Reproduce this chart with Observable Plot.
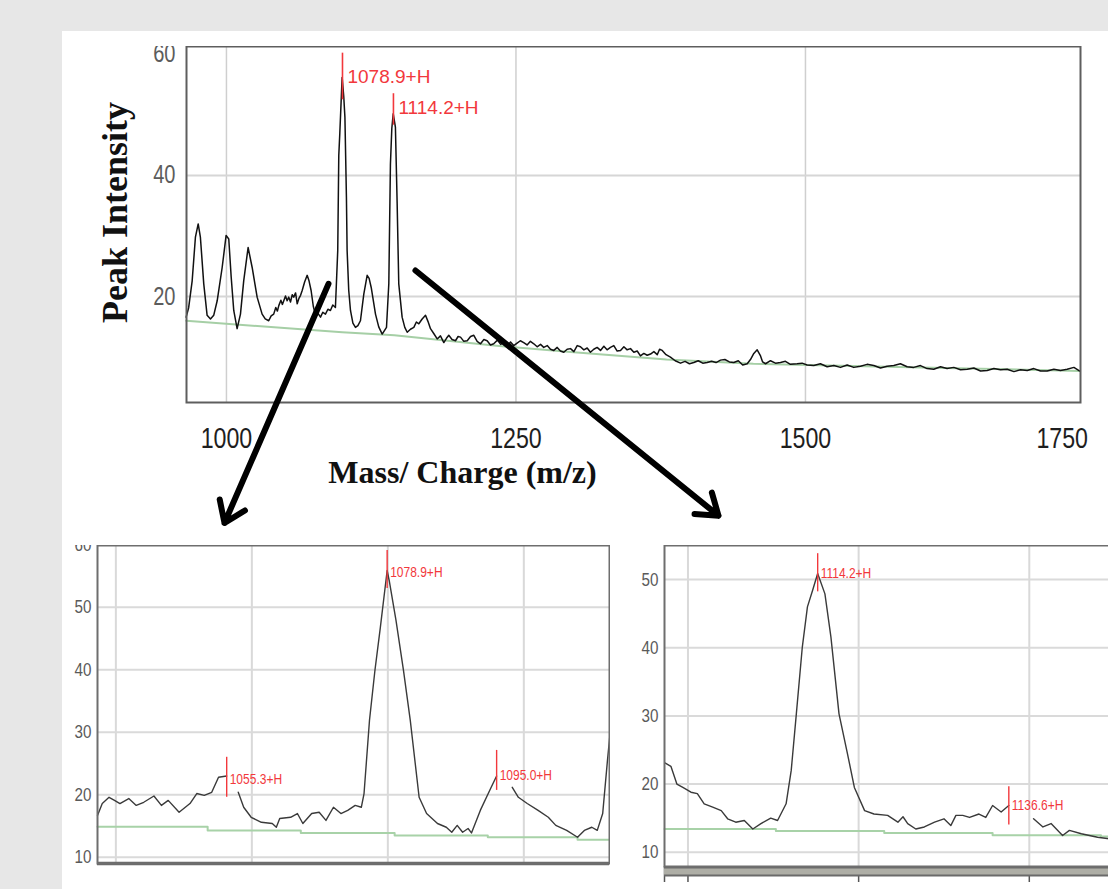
<!DOCTYPE html>
<html><head><meta charset="utf-8">
<script src="https://cdn.jsdelivr.net/npm/d3@7"></script>
<script src="https://cdn.jsdelivr.net/npm/@observablehq/plot@0.6"></script>
<style>
html,body{margin:0;padding:0;width:1108px;height:889px;overflow:hidden;background:#e7e7e7;}
#panel{position:absolute;left:62px;top:31px;width:1046px;height:858px;background:#fff;}
.chart{position:absolute;}
</style></head><body>
<div id="panel"></div>
<div id="top" class="chart" style="left:62px;top:46px;width:1046px;height:490px"></div>
<div id="bl" class="chart" style="left:62px;top:545px;width:548px;height:344px"></div>
<div id="br" class="chart" style="left:620px;top:545px;width:598px;height:344px"></div>
<script>
// ---------- TOP: full spectrum ----------
const topMz = [965.2,967.4,970.4,973.2,975.6,977.5,980.4,983.3,986.2,989.0,992.0,996.3,999.7,1002.0,1004.1,1006.3,1009.2,1012.1,1014.9,1018.7,1022.2,1026.5,1030.8,1033.5,1036.5,1038.6,1040.8,1042.6,1044.0,1045.2,1047.0,1048.3,1049.5,1051.0,1052.4,1053.8,1055.3,1056.8,1058.1,1059.7,1061.1,1062.6,1064.0,1065.4,1067.5,1069.7,1071.3,1073.1,1075.0,1076.9,1078.8,1081.2,1083.2,1085.5,1087.6,1089.8,1091.8,1094.1,1096.1,1097.0,1097.9,1099.9,1101.3,1102.3,1103.6,1104.2,1105.6,1107.1,1109.2,1111.4,1113.5,1115.7,1118.6,1121.5,1123.2,1125.0,1128.7,1131.5,1134.5,1138.2,1140.2,1141.6,1142.8,1144.0,1145.9,1147.4,1148.8,1151.7,1154.0,1156.1,1158.9,1161.8,1164.0,1166.1,1169.0,1171.9,1174.0,1176.2,1179.0,1182.0,1184.8,1187.7,1190.0,1192.0,1194.8,1197.8,1200.0,1202.1,1205.0,1207.9,1210.8,1213.6,1216.5,1219.4,1222.3,1225.1,1228.0,1230.8,1234.0,1236.8,1239.5,1242.5,1245.3,1248.1,1251.0,1253.8,1256.7,1259.6,1262.5,1265.4,1268.3,1271.2,1274.0,1277.0,1279.8,1282.7,1285.6,1288.4,1291.3,1294.2,1297.1,1300.0,1302.9,1305.7,1308.6,1311.5,1314.3,1317.2,1320.1,1323.0,1325.9,1328.7,1331.6,1334.5,1337.4,1340.3,1343.2,1346.0,1348.9,1351.8,1354.7,1357.5,1360.4,1363.3,1366.2,1369.1,1372.0,1374.0,1376.3,1379.6,1383.4,1387.5,1392.1,1396.0,1399.8,1403.6,1407.4,1411.3,1415.1,1418.9,1422.8,1426.6,1430.4,1434.3,1438.1,1442.0,1445.8,1449.7,1452.5,1455.4,1458.3,1461.2,1463.0,1465.5,1469.8,1474.1,1478.4,1482.7,1487.0,1492.8,1497.1,1501.4,1507.2,1512.9,1518.7,1524.5,1530.2,1536.0,1541.7,1547.5,1553.2,1559.0,1564.8,1570.5,1576.3,1582.0,1587.8,1593.5,1599.3,1605.0,1610.8,1616.6,1622.3,1628.1,1633.9,1639.7,1645.4,1651.2,1656.9,1662.7,1668.4,1674.2,1680.0,1685.7,1691.5,1697.2,1703.0,1708.7,1714.5,1720.2,1726.0,1731.8,1736.9];
const topIntensity = [16.6,18.2,22.6,29.8,32.0,29.8,22.1,16.9,16.3,16.9,19.3,24.8,30.1,29.5,23.2,17.7,14.7,17.1,22.6,28.1,24.8,19.9,17.1,16.3,16.0,16.8,17.1,18.2,17.6,18.5,19.4,18.7,19.3,20.1,19.3,19.9,19.1,20.3,19.9,20.6,18.8,19.7,20.2,21.0,22.4,23.5,22.6,21.0,18.4,16.9,17.3,16.6,17.4,17.1,17.9,17.7,18.6,18.2,27.6,43.3,47.0,56.2,53.0,49.6,36.4,27.6,21.0,17.7,15.6,14.9,15.2,16.0,20.4,23.5,23.0,21.5,17.1,15.0,13.8,14.9,22.1,41.9,47.8,50.2,48.0,35.4,22.1,16.6,14.9,14.1,14.6,14.9,15.8,15.5,16.3,16.9,15.9,14.7,13.9,13.0,13.5,12.4,13.1,13.6,12.9,12.7,13.4,13.3,12.6,12.7,13.4,13.6,12.6,12.2,12.9,12.7,12.0,12.2,12.8,12.1,12.4,11.8,12.5,11.9,12.3,12.7,12.4,12.0,12.6,12.2,11.7,12.1,11.6,11.9,11.3,11.1,11.6,11.0,10.8,11.3,11.4,10.9,11.9,11.7,11.2,11.5,10.8,11.3,11.6,11.1,11.8,11.2,11.6,11.9,11.0,11.1,11.7,11.2,11.4,10.8,11.0,10.2,10.6,10.3,10.5,10.9,10.4,11.3,11.1,10.4,10.0,9.4,9.0,9.3,8.9,9.1,9.4,9.0,9.1,9.3,9.1,9.5,9.6,9.2,9.1,9.4,8.7,8.9,9.6,10.6,11.2,10.2,9.2,8.9,9.4,9.0,9.1,9.3,8.8,8.9,9.0,8.7,8.6,8.9,8.4,8.6,8.3,8.7,8.3,8.5,8.8,8.6,8.2,8.5,8.6,8.9,8.4,8.3,8.6,8.1,8.0,8.4,8.1,8.3,7.9,8.0,8.2,7.7,7.8,8.1,7.9,8.0,7.6,7.9,7.8,8.1,7.7,7.7,8.0,7.8,8.0,8.3,7.7];
const topBaseMz = [965.2,1050,1100,1145,1231,1300,1380,1455,1600,1736.9];
const topBaseInt = [16.0,14.8,14.1,13.6,11.9,10.8,9.6,8.9,8.3,7.7];
const topPeakMz = [1100.2,1144.2];
const topPeakLow = [52.5,48.3];
const topPeakHigh = [60.2,53.5];
const topPeakLabelInt = [56.2,51.2];
const topPeakLabels = ["1078.9+H","1114.2+H"];
const topXDomain = [965.5,1737.5];
const topYDomain = [2.5,61.3];
const topXTicks = [1000,1250,1500];
const topXEdgeTick = [1750];
const topYTicks = [20,40,60];
const topYGrid = [20,40];
const arrowFromMz = [1088.1,1163.2], arrowFromInt = [22.1,24.3];
const arrowToMz = [998.3,1424.9], arrowToInt = [-17.4,-16.2];

// ---------- BOTTOM LEFT: zoom around 1078.9 ----------
const blMz = [1036.3,1037.0,1038.0,1038.8,1039.6,1040.9,1042.0,1043.1,1044.6,1045.7,1046.7,1048.3,1049.9,1050.9,1052.0,1053.1,1054.1,1055.3,1056.0,1057.0,1057.8,1058.9,1060.4,1062.0,1062.6,1063.1,1064.7,1065.7,1066.5,1067.8,1068.9,1069.9,1071.0,1072.1,1073.1,1074.2,1075.1,1075.5,1076.3,1077.1,1077.9,1078.9,1079.2,1080.2,1081.3,1082.3,1083.6,1084.7,1086.3,1087.6,1088.4,1089.2,1090.0,1090.8,1091.3,1092.6,1094.2,1095.0,1096.0,1097.3,1098.2,1099.5,1101.1,1102.6,1103.7,1105.3,1106.9,1107.9,1109.0,1109.8,1110.6,1111.3,1111.7];
const blIntensity = [16.7,18.6,19.6,19.1,18.6,19.4,18.3,18.8,19.8,18.3,19.1,17.2,18.6,20.2,19.9,20.4,22.8,23.0,null,20.4,18.0,16.4,15.6,15.4,14.8,16.2,16.4,17.0,15.4,17.0,17.2,15.9,18.0,17.0,17.5,18.3,18.0,20.2,31.9,39.9,46.8,55.9,54.3,47.9,39.9,31.9,19.6,17.0,15.4,14.8,14.0,15.1,14.0,14.6,13.9,17.5,21.2,23.0,null,21.2,19.6,18.6,17.5,16.4,15.1,14.3,13.2,14.3,14.8,14.3,17.0,25.5,30.0];
const blBaseMz = [1036.3,1052.5,1066.2,1080.0,1093.7,1106.9,1111.6];
const blBaseInt = [14.9,14.3,13.9,13.5,13.2,12.8,12.8];
const blPeakMz = [1055.3,1078.9,1095.0];
const blPeakLow = [19.6,53.0,20.7];
const blPeakHigh = [26.0,59.1,27.1];
const blPeakLabelInt = [22.5,55.6,23.1];
const blPeakLabels = ["1055.3+H","1078.9+H","1095.0+H"];
const blXDomain = [1036.3,1111.6];
const blYDomain = [9.0,59.9];
const blXGrid = [1039,1059,1079,1099];
const blYTicks = [10,20,30,40,50,60];

// ---------- BOTTOM RIGHT: zoom around 1114.2 ----------
const brMz = [1096.3,1097.0,1097.7,1098.4,1099.35,1100.1,1100.9,1101.9,1102.9,1103.65,1104.6,1105.6,1106.6,1107.55,1108.7,1109.5,1110.5,1111.1,1111.7,1112.4,1113.0,1113.6,1114.2,1115.05,1115.75,1116.7,1117.7,1118.5,1119.7,1120.8,1122.4,1123.6,1124.2,1124.75,1125.7,1126.7,1127.9,1129.0,1129.8,1130.4,1131.2,1132.0,1133.1,1133.9,1134.7,1135.7,1136.6,1137.5,1139.5,1140.6,1141.55,1142.9,1143.7,1145.1,1147.0,1148.35];
const brIntensity = [23.1,22.6,20.0,19.5,18.8,18.6,17.1,16.6,16.1,14.9,14.4,14.65,13.4,14.2,15.0,14.65,17.1,22.0,30.3,40.1,46.0,48.4,50.9,47.9,41.6,30.3,24.4,19.5,16.1,15.6,15.4,14.4,15.2,14.2,13.4,13.7,14.4,14.9,13.9,15.4,15.4,15.1,15.6,15.1,16.85,15.9,16.85,null,14.9,13.7,14.2,12.45,13.2,12.7,12.2,11.97];
const brBaseMz = [1096.25,1109.3,1122.0,1134.7,1147.4,1160.0];
const brBaseInt = [13.4,13.1,12.8,12.5,12.3,12.3];
const brPeakMz = [1114.2,1136.6];
const brPeakLow = [48.2,14.0];
const brPeakHigh = [53.8,19.6];
const brPeakLabelInt = [50.9,16.9];
const brPeakLabels = ["1114.2+H","1136.6+H"];
const brXDomain = [1096.25,1160.0];
const brYDomain = [7.9,55.0];
const brXGrid = [1099,1119,1139];
const brYTicks = [10,20,30,40,50];

// ---------- shared styles ----------
const RED = "#f2383c";
const NARROW = "'Arial Narrow','Liberation Sans',Arial,sans-serif";
const SERIF = "'Liberation Serif','Times New Roman',serif";
const SANS = "'Liberation Sans',Arial,sans-serif";

const rows = (xs, ys) => xs.map((m, i) => ({m, v: ys[i]}));
const peakRows = (xs, lo, hi, ly, lab) => xs.map((m, i) => ({m, lo: lo[i], hi: hi[i], ly: ly[i], label: lab[i]}));

const topTrace = rows(topMz, topIntensity);
const topBase = rows(topBaseMz, topBaseInt);
const topPeaks = peakRows(topPeakMz, topPeakLow, topPeakHigh, topPeakLabelInt, topPeakLabels);
const arrows = arrowFromMz.map((m, i) => ({x1: m, y1: arrowFromInt[i], x2: arrowToMz[i], y2: arrowToInt[i]}));

const topPlot = Plot.plot({
  width: 1046, height: 490,
  marginLeft: 124, marginRight: 28, marginTop: 0, marginBottom: 134,
  x: {domain: topXDomain, axis: null},
  y: {domain: topYDomain, axis: null},
  style: {fontFamily: SANS, overflow: "hidden", maxWidth: "none", background: "transparent"},
  marks: [
    Plot.gridX({ticks: topXTicks, stroke: "#cfcfcf", strokeOpacity: 1, strokeWidth: 1.5}),
    Plot.gridY({ticks: topYGrid, stroke: "#d6d6d6", strokeOpacity: 1, strokeWidth: 2}),
    Plot.line(topBase, {x: "m", y: "v", stroke: "#a6cfa6", strokeWidth: 2}),
    Plot.line(topTrace, {x: "m", y: "v", stroke: "#111", strokeWidth: 1.5}),
    Plot.ruleX(topPeaks, {x: "m", y1: "lo", y2: "hi", stroke: RED, strokeWidth: 1.6}),
    Plot.text(topPeaks, {x: "m", y: "ly", text: "label", dx: 5, textAnchor: "start", fill: RED, fontSize: 19, fontFamily: SANS}),
    Plot.frame({stroke: "#5e5e5e", strokeWidth: 2}),
    Plot.axisY({ticks: topYTicks, tickSize: 0, tickPadding: 11, fontSize: 25, fontFamily: NARROW, color: "#5c5c5c", label: null}),
    Plot.text(topXTicks, {x: d => d, text: d => String(d), frameAnchor: "bottom", lineAnchor: "top", dy: 25, fontSize: 29, fontFamily: NARROW, fill: "#1e1e1e"}),
    Plot.text(topXEdgeTick, {x: d => d, text: d => String(d), frameAnchor: "bottom", lineAnchor: "top", dy: 25, dx: -7, textAnchor: "end", fontSize: 29, fontFamily: NARROW, fill: "#1e1e1e"}),
    Plot.text(["Peak Intensity"], {frameAnchor: "left", textAnchor: "middle", rotate: -90, dx: -71, dy: -12, fontSize: 36, fontWeight: "bold", fontFamily: SERIF, fill: "#111"}),
    Plot.text(["Mass/ Charge (m/z)"], {frameAnchor: "bottom", textAnchor: "middle", dx: -171, dy: 80, fontSize: 32, fontWeight: "bold", fontFamily: SERIF, fill: "#111"}),
    Plot.arrow(arrows, {x1: "x1", y1: "y1", x2: "x2", y2: "y2", stroke: "#000", strokeWidth: 6, headLength: 6, headAngle: 70})
  ]
});
document.getElementById("top").append(topPlot);

function zoomPlot({trace, base, peaks, xDomain, yDomain, xGrid, yTicks, width, marginLeft, marginRight, marginBottom, band, edgeTicks}) {
  const marks = [
    Plot.gridX({ticks: xGrid, stroke: "#d9d9d9", strokeOpacity: 1, strokeWidth: 2}),
    Plot.gridY({ticks: yTicks, stroke: "#dadada", strokeOpacity: 1, strokeWidth: 2}),
    Plot.line(base, {x: "m", y: "v", stroke: "#a8d2a8", strokeWidth: 2, curve: "step-after"}),
    Plot.line(trace, {x: "m", y: "v", stroke: "#3a3a3a", strokeWidth: 1.4}),
    Plot.ruleX(peaks, {x: "m", y1: "lo", y2: "hi", stroke: RED, strokeWidth: 1.4}),
    Plot.text(peaks, {x: "m", y: "ly", text: "label", dx: 3, textAnchor: "start", fill: RED, fontSize: 15, fontFamily: NARROW}),
  ];
  if (band) {
    marks.push(Plot.axisX({ticks: edgeTicks, tickSize: 16, tickFormat: () => "", color: "#555", strokeWidth: 1.5, label: null}));
    marks.push(Plot.ruleY([yDomain[0]], {stroke: "#aeaea6", strokeWidth: 9, dy: 5}));
    marks.push(Plot.ruleY([yDomain[0]], {stroke: "#6a6a6a", strokeWidth: 2, dy: 1}));
    marks.push(Plot.ruleY([yDomain[0]], {stroke: "#6a6a6a", strokeWidth: 2, dy: 9}));
  } else {
    marks.push(Plot.ruleY([yDomain[0]], {stroke: "#6a6a6a", strokeWidth: 3.5, dy: 0}));
  }
  marks.push(Plot.frame({stroke: "#6e6e6e", strokeWidth: 2}));
  marks.push(Plot.axisY({ticks: yTicks, tickSize: 0, tickPadding: 6, fontSize: 19, fontFamily: NARROW, color: "#5a5a5a", label: null}));
  return Plot.plot({
    width, height: 344, marginLeft, marginRight, marginTop: 0, marginBottom,
    x: {domain: xDomain, axis: null},
    y: {domain: yDomain, axis: null},
    style: {fontFamily: SANS, overflow: "hidden", maxWidth: "none", background: "transparent"},
    marks
  });
}

document.getElementById("bl").append(zoomPlot({
  trace: rows(blMz, blIntensity), base: rows(blBaseMz, blBaseInt),
  peaks: peakRows(blPeakMz, blPeakLow, blPeakHigh, blPeakLabelInt, blPeakLabels),
  xDomain: blXDomain, yDomain: blYDomain, xGrid: blXGrid, yTicks: blYTicks,
  width: 548, marginLeft: 35, marginRight: 1, marginBottom: 26, band: false
}));

document.getElementById("br").append(zoomPlot({
  trace: rows(brMz, brIntensity), base: rows(brBaseMz, brBaseInt),
  peaks: peakRows(brPeakMz, brPeakLow, brPeakHigh, brPeakLabelInt, brPeakLabels),
  xDomain: brXDomain, yDomain: brYDomain, xGrid: brXGrid, yTicks: brYTicks,
  width: 598, marginLeft: 44, marginRight: 10, marginBottom: 23, band: true,
  edgeTicks: [brXDomain[0], ...brXGrid]
}));

// Condense the narrow-font texts horizontally (the reference uses a narrow face)
function condense(factor) {
  document.querySelectorAll('[font-family*="Narrow"] text').forEach(t => {
    const w = t.getComputedTextLength();
    if (w > 0) {
      t.setAttribute("textLength", (w * factor).toFixed(1));
      t.setAttribute("lengthAdjust", "spacingAndGlyphs");
    }
  });
}
condense(0.8);
</script>
</body></html>
